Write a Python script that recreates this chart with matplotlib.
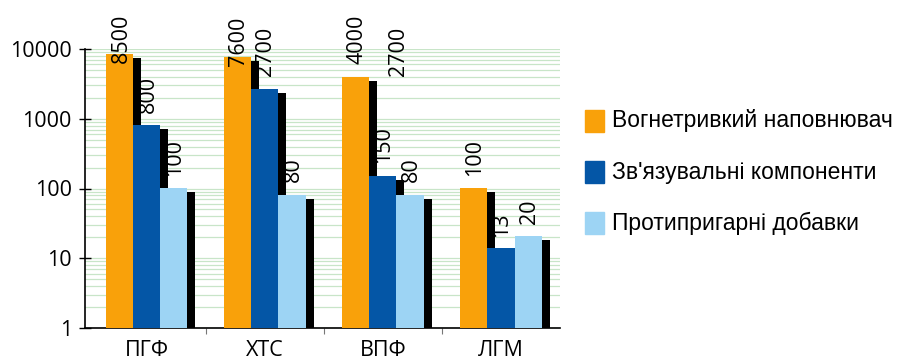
import numpy as np
import matplotlib
matplotlib.use("Agg")
import matplotlib.pyplot as plt
import matplotlib.transforms as mtransforms
from matplotlib.patches import Rectangle

plt.rcParams['font.family'] = ['Open Sans', 'DejaVu Sans']

groups = ["ПГФ", "ХТС", "ВПФ", "ЛГМ"]
series = ["Вогнетривкий наповнювач", "Зв'язувальні компоненти", "Протипригарні добавки"]
filler = [8500, 7600, 4000, 100]
binder = [800, 2700, 150, 13]
additive = [100, 80, 80, 20]
values = [filler, binder, additive]
colors = ["#F9A10A", "#0456A6", "#9DD4F4"]

# stray label in the ВПФ group of the original picture
extra_label = (2, 2700)

W, H = 897, 362
fig = plt.figure(figsize=(W / 100, H / 100), dpi=100)
ax = fig.add_axes([85 / W, (H - 328) / H, (560 - 85) / W, (328 - 49) / H])

bw = 0.229
x = np.arange(len(groups))
offsets = [-bw, 0, bw]

# black shadow bars, shifted 8 px right and 4 px down
shadow = ax.transData + mtransforms.ScaledTranslation(8 / 100, -4 / 100, fig.dpi_scale_trans)
for vals, off in zip(values, offsets):
    ax.bar(x + off, vals, width=bw, bottom=1, color="black", transform=shadow, zorder=2)
for vals, off, c in zip(values, offsets, colors):
    ax.bar(x + off, vals, width=bw, bottom=1, color=c, zorder=3)

for vals, off in zip(values, offsets):
    for xi, v in zip(x, vals):
        dy = -9 if v >= 5000 else 13
        ax.annotate(str(v), (xi + off, v), xytext=(1, dy), textcoords="offset pixels",
                    rotation=90, ha="center", va="bottom", fontsize=15.5,
                    annotation_clip=False, zorder=5)
gi, gv = extra_label
ax.annotate(str(gv), (x[gi] + 0.13, gv), xytext=(0, 13), textcoords="offset pixels",
            rotation=90, ha="center", va="bottom", fontsize=15.5,
            annotation_clip=False, zorder=5)

ax.set_yscale("log")
ax.set_ylim(1, 10000)
ax.set_xlim(-0.525, 3.5)
ax.set_yticks([1, 10, 100, 1000, 10000])
ax.set_yticklabels(["1", "10", "100", "1000", "10000"], fontsize=15.5)
ax.tick_params(axis="y", which="major", direction="inout", length=9, width=1, pad=5)
ax.tick_params(axis="y", which="minor", length=0)
ax.set_xticks(x)
ax.set_xticklabels(groups, fontsize=15.5)
ax.set_xticks([0.5, 1.5, 2.5], minor=True)
ax.tick_params(axis="x", which="major", length=0, pad=9)
ax.tick_params(axis="x", which="minor", length=4, width=0.8, color="#777777")

ax.yaxis.grid(True, which="both", color="#c8e5c8", lw=0.9, zorder=0)
ax.set_axisbelow(True)
for s in ["top", "right"]:
    ax.spines[s].set_visible(False)
ax.spines["left"].set_linewidth(1.2)
ax.spines["bottom"].set_linewidth(1.2)

# legend drawn by hand
for i, (lab, c) in enumerate(zip(series, colors)):
    yc = 121 + i * 51
    fig.add_artist(Rectangle((585 / W, (H - yc - 11) / H), 19 / W, 22 / H,
                             transform=fig.transFigure, color=c))
    fig.text(612 / W, (H - yc) / H, lab, fontsize=16.5, va="center", ha="left",
             family=['Liberation Sans', 'DejaVu Sans'])

fig.savefig("out.png", dpi=100)
